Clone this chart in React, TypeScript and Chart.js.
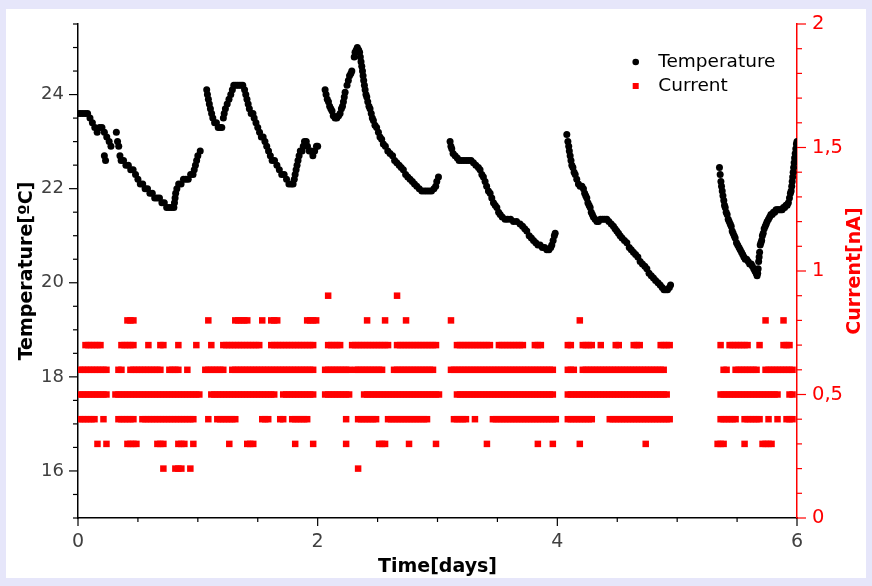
import React, { useEffect, useRef } from 'react';
import { Chart, registerables } from 'chart.js';

Chart.register(...registerables);

const FONT = "'DejaVu Sans', sans-serif";

// ---- axis tick values ----
const dayTicks = [0, 2, 4, 6];
const tempTicks = [16, 18, 20, 22, 24];
const currentTicks = [0, 0.5, 1, 1.5, 2];

// ---- Temperature [ºC] readings: [day, value] ----
const tempSeg1 = [
  [0, 23.6], [0.02, 23.6], [0.04, 23.6], [0.06, 23.6], [0.08, 23.6], [0.1, 23.5], [0.12, 23.4], [0.14, 23.3],
  [0.16, 23.2], [0.18, 23.3], [0.2, 23.3], [0.22, 23.2], [0.24, 23.1], [0.26, 23.0], [0.275, 22.9],
  [0.22, 22.7], [0.23, 22.6], [0.32, 23.2],
  [0.33, 23.0], [0.34, 22.9], [0.35, 22.7], [0.36, 22.6], [0.38, 22.6], [0.4, 22.5], [0.42, 22.5], [0.44, 22.4],
  [0.46, 22.4], [0.48, 22.3], [0.5, 22.2], [0.52, 22.1], [0.54, 22.1], [0.56, 22.0], [0.58, 22.0], [0.6, 21.9],
  [0.62, 21.9], [0.64, 21.8], [0.66, 21.8], [0.68, 21.8], [0.7, 21.7], [0.72, 21.7], [0.74, 21.6], [0.76, 21.6],
  [0.78, 21.6], [0.8, 21.6], [0.805, 21.7], [0.81, 21.8], [0.815, 21.9], [0.825, 22.0], [0.84, 22.1], [0.86, 22.1],
  [0.88, 22.2], [0.9, 22.2], [0.92, 22.2], [0.94, 22.3], [0.96, 22.3], [0.97, 22.4], [0.98, 22.5], [0.99, 22.6],
  [1.0, 22.7], [1.02, 22.8],
];
const tempSeg2 = [
  [1.074, 24.1], [1.08, 24.0], [1.088, 23.9], [1.096, 23.8], [1.105, 23.7], [1.115, 23.6], [1.125, 23.5], [1.14, 23.4],
  [1.155, 23.4], [1.17, 23.3], [1.185, 23.3], [1.2, 23.3],
  [1.213, 23.5], [1.22, 23.6], [1.23, 23.7], [1.245, 23.8], [1.26, 23.9], [1.275, 24.0], [1.288, 24.1], [1.3, 24.2],
  [1.315, 24.2], [1.33, 24.2], [1.345, 24.2], [1.36, 24.2], [1.375, 24.2], [1.39, 24.1], [1.4, 24.0], [1.41, 23.9],
  [1.42, 23.8], [1.43, 23.7], [1.445, 23.6], [1.46, 23.6], [1.47, 23.5], [1.485, 23.4], [1.5, 23.3], [1.515, 23.2],
  [1.53, 23.1], [1.545, 23.1], [1.56, 23.0], [1.575, 22.9], [1.59, 22.8], [1.605, 22.7], [1.62, 22.6], [1.64, 22.6],
  [1.66, 22.5], [1.68, 22.4], [1.7, 22.3], [1.72, 22.3], [1.74, 22.2], [1.76, 22.1], [1.78, 22.1], [1.795, 22.1],
  [1.805, 22.2], [1.812, 22.3], [1.82, 22.4], [1.828, 22.5], [1.836, 22.6], [1.845, 22.7], [1.855, 22.8], [1.87, 22.8],
  [1.88, 22.9], [1.89, 23.0], [1.905, 23.0], [1.915, 22.9], [1.93, 22.8], [1.945, 22.8], [1.96, 22.7], [1.975, 22.8],
  [1.99, 22.9], [2.0, 22.9],
];
const tempSeg3 = [
  [2.062, 24.1], [2.07, 24.0], [2.08, 23.9], [2.09, 23.85], [2.1, 23.75], [2.11, 23.7], [2.12, 23.65], [2.13, 23.55],
  [2.145, 23.5], [2.16, 23.5], [2.175, 23.55], [2.187, 23.6], [2.198, 23.7], [2.207, 23.75], [2.215, 23.85],
  [2.222, 23.95], [2.229, 24.05],
  [2.245, 24.2], [2.256, 24.3], [2.266, 24.4], [2.277, 24.45], [2.285, 24.5],
  [2.305, 24.8], [2.312, 24.9], [2.322, 24.95], [2.331, 25.0], [2.342, 24.95], [2.35, 24.9], [2.356, 24.8],
  [2.362, 24.7], [2.368, 24.6], [2.374, 24.5], [2.379, 24.4], [2.384, 24.3], [2.39, 24.2], [2.396, 24.1],
  [2.403, 24.0], [2.41, 23.95], [2.418, 23.85], [2.428, 23.75], [2.437, 23.7], [2.447, 23.6], [2.456, 23.5],
  [2.465, 23.45], [2.478, 23.35], [2.492, 23.3], [2.507, 23.2], [2.52, 23.1], [2.534, 23.05], [2.548, 22.95],
  [2.565, 22.9], [2.585, 22.8], [2.604, 22.75], [2.625, 22.7], [2.642, 22.6], [2.66, 22.55], [2.68, 22.5],
  [2.697, 22.45], [2.715, 22.4], [2.734, 22.3], [2.752, 22.25], [2.771, 22.2], [2.79, 22.15], [2.808, 22.1],
  [2.827, 22.05], [2.848, 22.0], [2.869, 21.95], [2.89, 21.95], [2.91, 21.95], [2.93, 21.95], [2.95, 21.95],
  [2.97, 22.0], [2.985, 22.05], [2.994, 22.15], [3.008, 22.25],
];
const tempSeg4 = [
  [3.105, 23.0], [3.112, 22.9], [3.119, 22.85], [3.13, 22.75], [3.147, 22.7], [3.165, 22.65], [3.18, 22.6],
  [3.2, 22.6], [3.22, 22.6], [3.24, 22.6], [3.26, 22.6], [3.28, 22.6], [3.3, 22.55], [3.32, 22.5], [3.341, 22.45],
  [3.355, 22.4], [3.37, 22.3], [3.383, 22.25], [3.397, 22.15], [3.41, 22.05], [3.425, 21.95], [3.439, 21.9],
  [3.453, 21.8], [3.467, 21.7], [3.481, 21.65], [3.495, 21.6], [3.51, 21.5], [3.523, 21.45], [3.54, 21.4],
  [3.564, 21.35], [3.585, 21.35], [3.61, 21.35], [3.634, 21.3], [3.66, 21.3], [3.689, 21.25], [3.71, 21.2],
  [3.728, 21.15], [3.745, 21.1], [3.765, 21.0], [3.783, 20.95], [3.801, 20.9], [3.82, 20.85], [3.838, 20.8],
  [3.856, 20.8], [3.875, 20.75], [3.894, 20.75], [3.912, 20.7], [3.93, 20.7], [3.945, 20.75], [3.954, 20.8],
  [3.965, 20.9], [3.975, 21.0], [3.982, 21.05],
];
const tempSeg5 = [
  [4.079, 23.15],
  [4.088, 23.0], [4.095, 22.9], [4.1, 22.8], [4.107, 22.7], [4.114, 22.6], [4.121, 22.5], [4.13, 22.45],
  [4.14, 22.35], [4.149, 22.3], [4.162, 22.2], [4.176, 22.1], [4.19, 22.05], [4.205, 22.05], [4.218, 22.0],
  [4.228, 21.9], [4.237, 21.85], [4.246, 21.8], [4.255, 21.7], [4.265, 21.65], [4.274, 21.6], [4.283, 21.5],
  [4.292, 21.45], [4.301, 21.4], [4.315, 21.35], [4.33, 21.3], [4.343, 21.3], [4.36, 21.35], [4.378, 21.35],
  [4.395, 21.35], [4.413, 21.35], [4.43, 21.3], [4.45, 21.25], [4.468, 21.2], [4.482, 21.15], [4.496, 21.1],
  [4.51, 21.05], [4.524, 21.0], [4.54, 20.95], [4.56, 20.9], [4.58, 20.85], [4.6, 20.75], [4.617, 20.7],
  [4.635, 20.65], [4.653, 20.6], [4.672, 20.55], [4.691, 20.45], [4.71, 20.4], [4.73, 20.35], [4.747, 20.3],
  [4.765, 20.2], [4.784, 20.15], [4.802, 20.1], [4.82, 20.05], [4.84, 20.0], [4.858, 19.95], [4.875, 19.9],
  [4.89, 19.85], [4.905, 19.85], [4.92, 19.85], [4.935, 19.9], [4.945, 19.95],
];
const tempSeg6 = [
  [5.353, 22.45], [5.359, 22.3], [5.365, 22.15], [5.37, 22.05], [5.376, 21.95], [5.382, 21.85], [5.389, 21.75],
  [5.395, 21.65], [5.401, 21.6], [5.409, 21.5], [5.417, 21.45], [5.426, 21.35], [5.434, 21.3], [5.443, 21.25],
  [5.451, 21.2], [5.459, 21.1], [5.467, 21.05], [5.476, 21.0], [5.484, 20.95], [5.495, 20.85], [5.505, 20.8],
  [5.516, 20.75], [5.526, 20.7], [5.537, 20.65], [5.547, 20.6], [5.557, 20.55], [5.568, 20.5], [5.58, 20.5],
  [5.593, 20.45], [5.605, 20.4], [5.618, 20.4], [5.628, 20.35], [5.639, 20.3], [5.649, 20.25], [5.659, 20.2],
  [5.667, 20.15], [5.672, 20.2], [5.676, 20.3], [5.68, 20.45], [5.684, 20.55], [5.688, 20.65], [5.693, 20.8],
  [5.699, 20.85], [5.705, 20.9], [5.711, 21.0], [5.718, 21.05], [5.726, 21.15], [5.735, 21.2], [5.743, 21.25],
  [5.751, 21.3], [5.762, 21.35], [5.772, 21.4], [5.782, 21.45], [5.793, 21.45], [5.803, 21.5], [5.814, 21.5],
  [5.825, 21.55], [5.835, 21.55], [5.845, 21.55], [5.855, 21.55], [5.866, 21.55], [5.876, 21.55], [5.887, 21.6],
  [5.897, 21.6], [5.908, 21.65], [5.918, 21.65], [5.928, 21.7], [5.937, 21.8], [5.945, 21.9], [5.951, 21.95],
  [5.956, 22.05], [5.96, 22.15], [5.964, 22.25], [5.968, 22.35], [5.972, 22.45], [5.976, 22.55], [5.98, 22.65],
  [5.985, 22.75], [5.99, 22.85], [5.995, 22.95], [6.0, 23.0],
];

// ---- Current [nA]: one character per 0.025-day bin, '#' = a reading at that level ----
const currentBinDays = 0.025;
const currentLevels = [0.9, 0.8, 0.7, 0.6, 0.5, 0.4, 0.3, 0.2];
const cur09 = ".......... .......... .......... .......... .......... .......... .......... .......... ...#...... .......... ......#... .......... .......... .......... .......... .......... .......... .......... .......... .......... .......... .......... .......... ..........";
const cur08 = ".......... ......###. .......... .......... ...#...... ..#####... .#..###... ......#### .......... ......#... ..#......# .......... ....#..... .......... .......... .......... .......#.. .......... .......... .......... .......... .......... .........# .....#....";
const cur07 = "..######.. ....#####. ...#...##. ...#.....# ....#...## ########## #...###### #########. ...#####.. .######### ####..#### ########## ......#### ########.. #########. ..###..... ...##...## ##..#....# #....###.. ....####.. .......... ....#..### ####...#.. .....###..";
const cur06 = "########## ...##..### ########.. ####..#... ..#######. .######### ########## #########. ..######## #.######## ##...##### #########. ....###### ########## ########## #########. ...###..## ########## ########## ######.... .......... .....##..# #######..# #########.";
const cur05 = "########## ..######## ########## ########## #...###### ########## ######..## #########. ..######## #....##### ########## ########## #.....#### ########## ########## #########. ...####### ########## ########## #######... .......... ....###### ########## ####...##.";
const cur04 = "######..#. ...######. .######### #########. ...#..#### ###....... .###...##. .######... .........# ...####### ...####### #######... .....##### ..#.....## ########## ########## ...####### ##.....### ########## ########.. .......... ....###### ..######.. #..#..###.";
const cur03 = "......#..# ......#### ......###. ...###..#. .......... #.....###. .......... ..#.....#. .........# .......... ###....... #........# .......... ......#... .......... ...#....#. .......#.. .......... .........# .......... .......... ...###.... ..#.....## ##........";
const cur02 = ".......... .......... ........#. ..###..#.. .......... .......... .......... .......... .......... ...#...... .......... .......... .......... .......... .......... .......... .......... .......... .......... .......... .......... .......... .......... ..........";
const currentMasks = [cur09, cur08, cur07, cur06, cur05, cur04, cur03, cur02];

const tempData = [...tempSeg1, ...tempSeg2, ...tempSeg3, ...tempSeg4, ...tempSeg5, ...tempSeg6].map(([x, y]) => ({ x, y }));
const currentData = currentLevels.flatMap((level, i) =>
  currentMasks[i]
    .replace(/\s/g, '')
    .split('')
    .flatMap((c, k) => (c === '#' ? [{ x: (k + 0.5) * currentBinDays, y: level }] : []))
);

const near = (arr: number[], v: number) => arr.some((t) => Math.abs(t - v) < 1e-6);

const decorPlugin = {
  id: 'decor',
  afterDraw(chart: any) {
    const { ctx, chartArea: a, scales } = chart;
    const xs = scales.x;
    const ys = scales.y;
    const yr = scales.y1;
    const line = (x1: number, y1: number, x2: number, y2: number) => {
      ctx.beginPath();
      ctx.moveTo(x1, y1);
      ctx.lineTo(x2, y2);
      ctx.stroke();
    };
    ctx.save();
    ctx.lineWidth = 1.2;
    ctx.strokeStyle = '#000';
    for (let i = 0; i <= 12; i++) {
      const v = i * 0.5;
      const px = xs.getPixelForValue(v);
      line(px, a.bottom, px, a.bottom + (near(dayTicks, v) ? 8 : 4));
    }
    for (let i = 0; i <= 21; i++) {
      const v = 15 + i * 0.5;
      const py = ys.getPixelForValue(v);
      line(a.left - (near(tempTicks, v) ? 9 : 5), py, a.left, py);
    }
    ctx.strokeStyle = '#ff0000';
    for (let i = 0; i <= 20; i++) {
      const v = i / 10;
      const py = yr.getPixelForValue(v);
      line(a.right, py, a.right + (near(currentTicks, v) ? 9 : 5), py);
    }

    // axis titles
    const midY = (a.top + a.bottom) / 2;
    ctx.font = `bold 19px ${FONT}`;
    ctx.textAlign = 'center';
    ctx.textBaseline = 'middle';
    ctx.fillStyle = '#000';
    ctx.fillText('Time[days]', (a.left + a.right) / 2, 558);
    ctx.save();
    ctx.translate(21, midY);
    ctx.rotate(-Math.PI / 2);
    ctx.fillText('Temperature[ºC]', 0, 0);
    ctx.restore();
    ctx.fillStyle = '#ff0000';
    ctx.save();
    ctx.translate(849, midY);
    ctx.rotate(-Math.PI / 2);
    ctx.fillText('Current[nA]', 0, 0);
    ctx.restore();

    // legend
    const ds = chart.data.datasets;
    ctx.font = `18.5px ${FONT}`;
    ctx.textAlign = 'left';
    ctx.fillStyle = '#000';
    ctx.beginPath();
    ctx.arc(629.7, 53, 3.3, 0, Math.PI * 2);
    ctx.fill();
    ctx.fillText(ds[0].label, 652.3, 53);
    ctx.fillStyle = '#ff0000';
    ctx.fillRect(626.7, 74, 6, 6);
    ctx.fillStyle = '#000';
    ctx.fillText(ds[1].label, 652.3, 77);
    ctx.restore();
  },
};

export default function App() {
  const ref = useRef<HTMLCanvasElement>(null);

  useEffect(() => {
    if (!ref.current) return;
    const chart = new Chart(ref.current, {
      type: 'scatter',
      data: {
        datasets: [
          {
            label: 'Temperature',
            data: tempData,
            yAxisID: 'y',
            pointRadius: 3.5,
            pointHoverRadius: 3.5,
            pointBorderWidth: 0,
            pointBackgroundColor: '#000',
            backgroundColor: '#000',
            borderColor: '#000',
            clip: 0,
          },
          {
            label: 'Current',
            data: currentData,
            yAxisID: 'y1',
            pointStyle: 'rect',
            pointRadius: 4.6,
            pointHoverRadius: 4.6,
            pointBorderWidth: 0,
            pointBackgroundColor: '#ff0000',
            backgroundColor: '#ff0000',
            borderColor: '#ff0000',
            clip: 0,
          },
        ],
      } as any,
      options: {
        responsive: false,
        animation: false,
        devicePixelRatio: 1,
        events: [],
        layout: { padding: { top: 15, left: 0, right: 0, bottom: 0 } },
        plugins: { legend: { display: false }, tooltip: { enabled: false }, title: { display: false } },
        scales: {
          x: {
            type: 'linear',
            position: 'bottom',
            min: 0,
            max: 6,
            afterBuildTicks: (s: any) => {
              s.ticks = dayTicks.map((value) => ({ value }));
            },
            afterFit: (s: any) => {
              s.height = 60;
              s.paddingLeft = 0;
              s.paddingRight = 0;
            },
            grid: { display: false, drawTicks: false },
            border: { display: true, color: '#000', width: 1.5 },
            ticks: {
              padding: 13,
              color: '#404040',
              font: { family: FONT, size: 19 },
              maxRotation: 0,
              autoSkip: false,
              callback: (v: any) => String(v),
            },
          },
          y: {
            type: 'linear',
            position: 'left',
            min: 15,
            max: 25.5,
            afterBuildTicks: (s: any) => {
              s.ticks = tempTicks.map((value) => ({ value }));
            },
            afterFit: (s: any) => {
              s.width = 72;
              s.paddingTop = 0;
              s.paddingBottom = 0;
            },
            grid: { display: false, drawTicks: false },
            border: { display: true, color: '#000', width: 1.5 },
            ticks: {
              padding: 14,
              color: '#404040',
              font: { family: FONT, size: 18 },
              autoSkip: false,
              callback: (v: any) => String(v),
            },
          },
          y1: {
            type: 'linear',
            position: 'right',
            min: 0,
            max: 2,
            afterBuildTicks: (s: any) => {
              s.ticks = currentTicks.map((value) => ({ value }));
            },
            afterFit: (s: any) => {
              s.width = 69;
              s.paddingTop = 0;
              s.paddingBottom = 0;
            },
            grid: { display: false, drawTicks: false },
            border: { display: true, color: '#ff0000', width: 1.5 },
            ticks: {
              padding: 15,
              color: '#ff0000',
              font: { family: FONT, size: 19.5 },
              autoSkip: false,
              callback: (v: any) => String(v).replace('.', ','),
            },
          },
        },
      } as any,
      plugins: [decorPlugin],
    });
    return () => chart.destroy();
  }, []);

  return (
    <div style={{ position: 'fixed', inset: 0, background: '#e6e6fa' }}>
      <div style={{ position: 'absolute', left: 6, top: 9, width: 860, height: 569, background: '#ffffff' }}>
        <canvas ref={ref} width={860} height={569} style={{ display: 'block', width: 860, height: 569 }} />
      </div>
    </div>
  );
}
